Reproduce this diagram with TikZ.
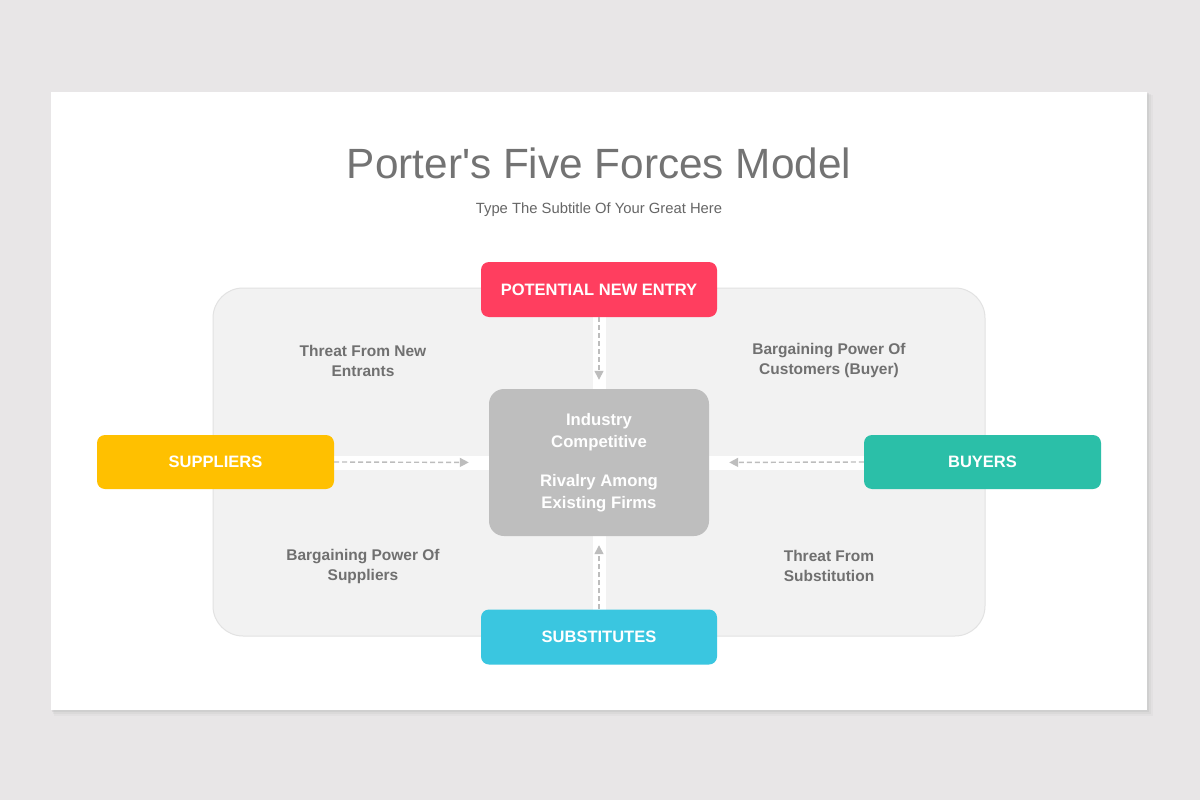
\documentclass[tikz,border=0pt]{standalone}
\usepackage{fontspec}
\setmainfont{Liberation Sans}
\newfontfamily\titlefont{Liberation Sans}
\usetikzlibrary{arrows.meta}
\definecolor{pagebg}{HTML}{E8E6E7}
\definecolor{panelfill}{HTML}{F2F2F2}
\definecolor{panelline}{HTML}{E2E2E2}
\definecolor{titlegray}{HTML}{737373}
\definecolor{labelgray}{HTML}{707070}
\definecolor{subgray}{HTML}{666666}
\definecolor{entryred}{HTML}{FF3E5F}
\definecolor{supyellow}{HTML}{FFC000}
\definecolor{buyteal}{HTML}{2BBFA8}
\definecolor{subcyan}{HTML}{3AC6E0}
\definecolor{coregray}{HTML}{BEBEBE}
\definecolor{arrowgray}{HTML}{BDBDBD}
\tikzset{
  forcebox/.style={rounded corners=8pt, minimum width=236pt, minimum height=55pt,
    inner sep=0pt, text=white, font=\bfseries\fontsize{16.5}{20}\selectfont},
  corebox/.style={rounded corners=15pt, fill=coregray, minimum width=220pt,
    minimum height=147pt, inner sep=0pt},
  forcelabel/.style={text=labelgray, align=center, font=\bfseries\fontsize{15.5}{20}\selectfont},
  corelabel/.style={text=white, align=center, font=\bfseries\fontsize{16.7}{22}\selectfont},
  flow/.style={draw=arrowgray, line width=1.4pt, dash pattern=on 5pt off 3pt,
    -{Triangle[length=9pt,width=9pt]}},
}
\begin{document}
\begin{tikzpicture}[x=1pt,y=-1pt]
\useasboundingbox (0,0) rectangle (1200,800);
\fill[pagebg] (0,0) rectangle (1200,800);
% card shadow
\foreach \d/\o in {6/0.10,4/0.15,2/0.25}{
  \fill[black!30, opacity=\o] (51+\d/2,92+\d/2) rectangle (1147+\d,710+\d);
}
\fill[white] (51,92) rectangle (1147,710);
% panel
\draw[fill=panelfill, draw=panelline, line width=1pt, rounded corners=30pt] (213,288) rectangle (985,636);
% white cross bands
\fill[white] (592.5,317) rectangle (606,610);
\fill[white] (333,456) rectangle (864,469.5);
% title
\node[text=titlegray, font=\titlefont\fontsize{42.3}{50}\selectfont] (title) at (599,163.5) {Porter's Five Forces Model};
\node[text=subgray, font=\fontsize{14.8}{18}\selectfont] (subtitle) at (599,209.5) {Type The Subtitle Of Your Great Here};
% boxes
\node[forcebox, fill=entryred] (entry) at (599,289.5) {POTENTIAL NEW ENTRY};
\node[forcebox, fill=subcyan] (subst) at (599,637) {SUBSTITUTES};
\node[forcebox, fill=supyellow, minimum width=237pt, minimum height=54pt] (supp) at (215.5,462) {SUPPLIERS};
\node[forcebox, fill=buyteal, minimum width=237pt, minimum height=54pt] (buy) at (982.5,462) {BUYERS};
\node[corebox] (core) at (599,462.5) {};
\node[corelabel] (coreA) at (599,432.5) {Industry\\Competitive};
\node[corelabel] (coreB) at (599,493.5) {Rivalry Among\\Existing Firms};
% labels
\node[forcelabel] (l1) at (363,360.5) {Threat From New\\Entrants};
\node[forcelabel] (l2) at (829,360.5) {Bargaining Power Of\\Customers (Buyer)};
\node[forcelabel] (l3) at (363,566) {Bargaining Power Of\\Suppliers};
\node[forcelabel] (l4) at (829,566) {Threat From\\Substitution};
% arrows
\draw[flow, shorten >=9pt] (entry.south) -- (core.north);
\draw[flow, shorten >=9pt] (subst.north) -- (core.south);
\draw[flow, shorten >=20pt] (supp.east) -- (core.west);
\draw[flow, shorten >=20pt] (buy.west) -- (core.east);
\end{tikzpicture}
\end{document}
